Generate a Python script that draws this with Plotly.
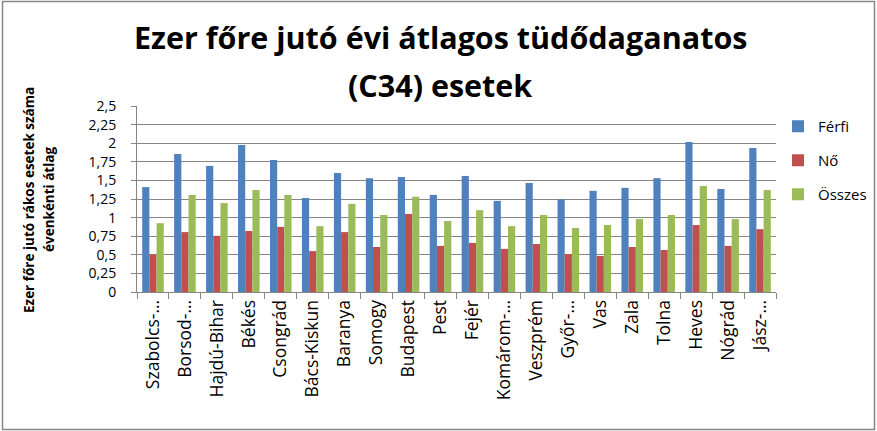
import plotly.graph_objects as go

categories = ["Szabolcs-…", "Borsod-…", "Hajdú-Bihar", "Békés", "Csongrád", "Bács-Kiskun",
              "Baranya", "Somogy", "Budapest", "Pest", "Fejér", "Komárom-…", "Veszprém",
              "Győr-…", "Vas", "Zala", "Tolna", "Heves", "Nógrád", "Jász-…"]
ferfi = [1.41, 1.855, 1.695, 1.975, 1.775, 1.265, 1.60, 1.53, 1.545, 1.305, 1.56, 1.225, 1.465,
         1.245, 1.36, 1.40, 1.53, 2.015, 1.385, 1.935]
no = [0.505, 0.805, 0.755, 0.82, 0.875, 0.55, 0.805, 0.605, 1.05, 0.62, 0.66, 0.58, 0.645,
      0.51, 0.485, 0.605, 0.565, 0.90, 0.62, 0.845]
osszes = [0.925, 1.305, 1.195, 1.37, 1.305, 0.885, 1.185, 1.035, 1.28, 0.955, 1.10, 0.885, 1.035,
          0.86, 0.90, 0.98, 1.035, 1.425, 0.98, 1.37]
tick_vals = [0, 0.25, 0.5, 0.75, 1, 1.25, 1.5, 1.75, 2, 2.25, 2.5]
tick_text = ["0", "0,25", "0,5", "0,75", "1", "1,25", "1,5", "1,75", "2", "2,25", "2,5"]
title_lines = ["Ezer főre jutó évi átlagos tüdődaganatos", "(C34) esetek"]
ytitle_lines = ["Ezer főre jutó rákos esetek száma", "évenkénti átlag"]

W, H = 877, 431
ml, mr, mt, mb = 137, 101, 106, 139
pw = W - ml - mr
ph = H - mt - mb
F = "Open Sans"


def px(x):
    return (x - ml) / pw


def py(y):
    return (H - mb - y) / ph


fig = go.Figure()
for name, vals, col in [("Férfi", ferfi, "#4F81BD"), ("Nő", no, "#C0504D"), ("Összes", osszes, "#9BBB59")]:
    fig.add_trace(go.Bar(x=categories, y=vals, name=name, legendgroup=name,
                         marker=dict(color=col, line_width=0)))

fig.update_layout(
    width=W, height=H, margin=dict(l=ml, r=mr, t=mt, b=mb, autoexpand=False),
    paper_bgcolor="white", plot_bgcolor="white",
    barmode="group", bargap=0.325, bargroupgap=0,
    font=dict(family=F, color="black"),
    legend=dict(x=px(778), y=py(110), xanchor="left", yanchor="top",
                font=dict(size=15, family=F), tracegroupgap=11.5, itemwidth=30,
                bgcolor="rgba(0,0,0,0)"),
    showlegend=True,
)
fig.update_yaxes(range=[0, 2.5], tickvals=tick_vals, ticktext=tick_text, showgrid=True,
                 gridcolor="#868686", gridwidth=1, showline=True, linecolor="#868686",
                 ticks="outside", ticklen=5, tickcolor="#868686", automargin=False,
                 ticklabelstandoff=12,
                 tickfont=dict(size=14, family=F), zeroline=False)
fig.update_xaxes(showline=True, linecolor="#868686", ticks="outside", tickson="boundaries",
                 ticklen=6, tickcolor="#868686", tickangle=-90, automargin=False,
                 tickfont=dict(size=17.5, family=F), showgrid=False)

for txt, yc in zip(title_lines, [37, 85]):
    fig.add_annotation(text=f"<b>{txt}</b>", xref="paper", yref="paper", x=px(440), y=py(yc),
                       xanchor="center", yanchor="middle", showarrow=False,
                       font=dict(family=F, size=30.5, color="black"))
for txt, xc in zip(ytitle_lines, [29, 49]):
    fig.add_annotation(text=f"<b>{txt}</b>", xref="paper", yref="paper", x=px(xc), y=py(200),
                       xanchor="center", yanchor="middle", showarrow=False, textangle=-90,
                       font=dict(family=F, size=13.5, color="black"))

fig.add_shape(type="rect", xref="paper", yref="paper",
              x0=px(2.5), x1=px(874.5), y0=py(429.5), y1=py(1.5),
              line=dict(color="#868686", width=1.5), layer="below")

fig.write_html("out.html", config={"displayModeBar": False},
               post_script="document.body.style.margin='0';document.body.style.padding='0';")
